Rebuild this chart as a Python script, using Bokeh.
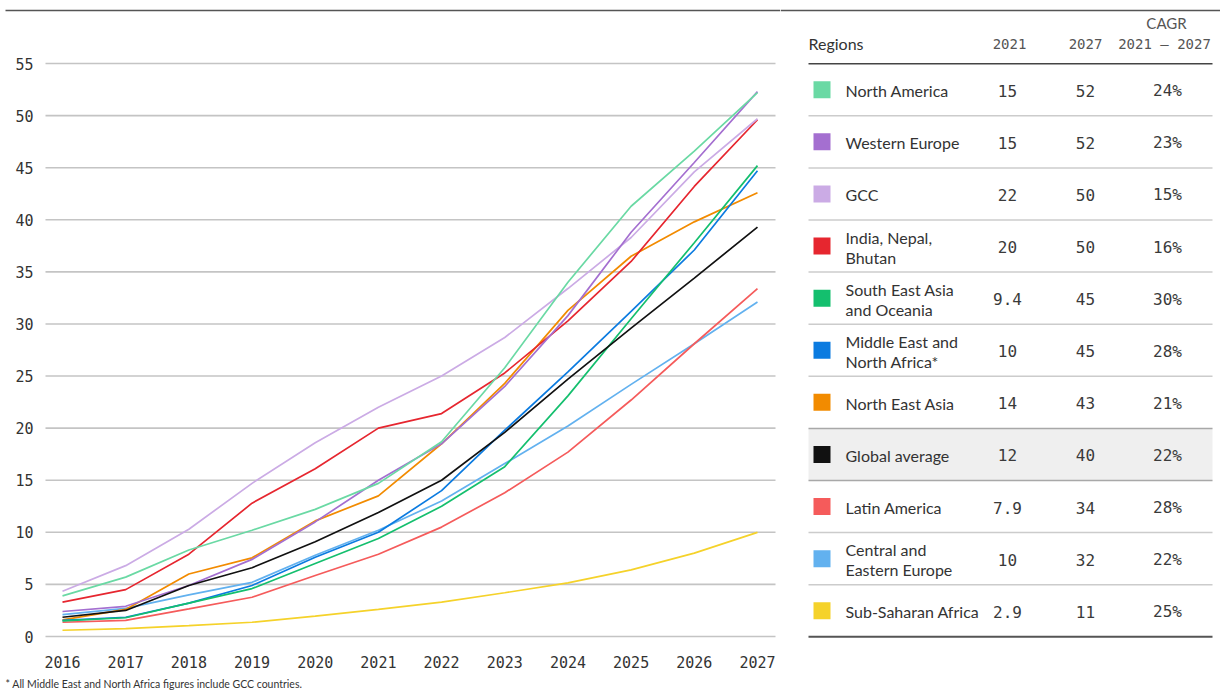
from bokeh.plotting import figure
from bokeh.layouts import row
from bokeh.models import Range1d
from bokeh.core.properties import value
from bokeh.embed import file_html
from bokeh.resources import INLINE

years = list(range(2016, 2028))

north_america = [3.9, 5.7, 8.3, 10.2, 12.2, 14.7, 18.7, 25.8, 34.0, 41.3, 46.6, 52.2]
western_europe = [2.4, 2.9, 4.9, 7.4, 11.0, 15.0, 18.5, 24.0, 30.8, 38.8, 45.5, 52.3]
gcc = [4.35, 6.8, 10.3, 14.7, 18.6, 22.0, 25.0, 28.7, 33.4, 38.3, 44.6, 49.7]
india_nepal_bhutan = [3.3, 4.5, 7.9, 12.8, 16.1, 20.0, 21.4, 25.3, 30.3, 36.0, 43.2, 49.6]
south_east_asia = [1.5, 1.8, 3.2, 4.6, 7.0, 9.4, 12.5, 16.3, 23.1, 30.5, 37.8, 45.2]
middle_east_na = [1.55, 1.85, 3.2, 4.9, 7.6, 10.0, 14.0, 19.8, 25.4, 31.2, 37.1, 44.7]
north_east_asia = [1.6, 2.6, 6.0, 7.55, 11.1, 13.5, 18.5, 24.3, 31.3, 36.5, 39.8, 42.6]
global_average = [1.85, 2.5, 4.9, 6.6, 9.1, 11.9, 15.0, 19.6, 24.7, 29.6, 34.4, 39.3]
latin_america = [1.37, 1.55, 2.65, 3.77, 5.85, 7.9, 10.5, 13.8, 17.7, 22.7, 28.1, 33.4]
central_eastern_europe = [2.1, 2.7, 4.0, 5.2, 7.8, 10.2, 13.0, 16.6, 20.2, 24.2, 28.1, 32.1]
sub_saharan_africa = [0.6, 0.75, 1.05, 1.37, 1.95, 2.6, 3.3, 4.2, 5.15, 6.4, 8.0, 10.0]

regions = ["North America", "Western Europe", "GCC", "India, Nepal,\nBhutan",
           "South East Asia\nand Oceania", "Middle East and\nNorth Africa*",
           "North East Asia", "Global average", "Latin America",
           "Central and\nEastern Europe", "Sub-Saharan Africa"]
values_2021 = ["15", "15", "22", "20", "9.4", "10", "14", "12", "7.9", "10", "2.9"]
values_2027 = ["52", "52", "50", "50", "45", "45", "43", "40", "34", "32", "11"]
cagr = ["24%", "23%", "15%", "16%", "30%", "28%", "21%", "22%", "28%", "22%", "25%"]
colors = ["#6ad9a4", "#a46fd0", "#cbabe5", "#e6262f", "#14bf6e", "#0b7be0",
          "#f28b00", "#111111", "#f55b5b", "#62b1ef", "#f5d22a"]
series = [north_america, western_europe, gcc, india_nepal_bhutan, south_east_asia,
          middle_east_na, north_east_asia, global_average, latin_america,
          central_eastern_europe, sub_saharan_africa]
y_ticks = list(range(0, 56, 5))
footnote = "* All Middle East and North Africa figures include GCC countries."

MONO = value("DejaVu Sans Mono")
SANS = value("Lato")
H = 691

# ---------------- chart ----------------
W1 = 780
PX_YEAR = 63.18
PX_UNIT = 10.418
xs = 2016 - 62 / PX_YEAR
ys = -(H - 636) / PX_UNIT


def fx(px):
    return xs + px / PX_YEAR


def fy(py):
    return ys + (H - py) / PX_UNIT


p = figure(width=W1, height=H, x_range=Range1d(xs, xs + W1 / PX_YEAR),
           y_range=Range1d(ys, ys + H / PX_UNIT), output_backend="svg",
           toolbar_location=None, x_axis_type=None, y_axis_type=None,
           min_border=0, min_border_left=0, min_border_right=0,
           min_border_top=0, min_border_bottom=0)
p.outline_line_color = None
p.grid.visible = False
p.background_fill_color = "white"
p.border_fill_color = "white"

n = len(y_ticks)
p.segment(x0=[fx(45)] * n, y0=y_ticks, x1=[fx(775)] * n, y1=y_ticks,
          line_color="#c4c4c4", line_width=1.6)
p.text(x=[fx(33)] * n, y=y_ticks, text=[str(t) for t in y_ticks],
       text_align="right", text_baseline="middle", text_font=MONO,
       text_font_size="15px", text_color="#333333")
p.text(x=years, y=[fy(661)] * len(years), text=[str(y) for y in years],
       text_align="center", text_baseline="middle", text_font=MONO,
       text_font_size="15px", text_color="#333333")

order = [10, 9, 8, 6, 5, 4, 3, 2, 1, 0, 7]
for i in order:
    p.line(years, series[i], line_color=colors[i], line_width=1.7)

p.segment(x0=[fx(5)], y0=[fy(10)], x1=[fx(780)], y1=[fy(10)],
          line_color="#555555", line_width=1.5)
p.text(x=[fx(5)], y=[fy(683)], text=[footnote], text_align="left",
       text_baseline="middle", text_font=SANS, text_font_size="10.5px",
       text_color="#333333")

# ---------------- table ----------------
W2 = 440
t = figure(width=W2, height=H, x_range=Range1d(780, 780 + W2),
           y_range=Range1d(H, 0), output_backend="svg", toolbar_location=None,
           x_axis_type=None, y_axis_type=None, min_border=0,
           min_border_left=0, min_border_right=0, min_border_top=0,
           min_border_bottom=0)
t.outline_line_color = None
t.grid.visible = False

TOP = 63.2
RH = 52.1
L, R = 808, 1212
nrows = len(regions)
centers = [TOP + RH * (i + 0.5) for i in range(nrows)]
gi = regions.index("Global average")

t.quad(left=[L], right=[R], top=[TOP + RH * gi], bottom=[TOP + RH * (gi + 1)],
       fill_color="#efefef", line_color=None)
for i in range(1, nrows):
    yy = TOP + RH * i
    col = "#a8a8a8" if i in (gi, gi + 1) else "#cccccc"
    t.segment(x0=[L], y0=[yy], x1=[R], y1=[yy], line_color=col, line_width=1.5)
t.segment(x0=[L], y0=[TOP], x1=[R], y1=[TOP], line_color="#444444", line_width=1.5)
t.segment(x0=[L], y0=[TOP + RH * nrows], x1=[R], y1=[TOP + RH * nrows],
          line_color="#555555", line_width=2)
t.segment(x0=[780], y0=[10], x1=[1220], y1=[10], line_color="#555555", line_width=1.5)

t.rect(x=[821.5] * nrows, y=centers, width=17, height=17, fill_color=colors,
       line_color=None)

lx, ly, lt = [], [], []
for name, c in zip(regions, centers):
    parts = name.split("\n")
    if len(parts) == 1:
        lx.append(845); ly.append(c + 1); lt.append(parts[0])
    else:
        lx += [845, 845]; ly += [c - 9, c + 11]; lt += parts
t.text(x=lx, y=ly, text=lt, text_align="left", text_baseline="middle",
       text_font=SANS, text_font_size="16px", text_color="#333333")

for colx, vals in ((1007, values_2021), (1085, values_2027), (1167, cagr)):
    t.text(x=[colx] * nrows, y=[c + 1 for c in centers], text=vals,
           text_align="center", text_baseline="middle", text_font=MONO,
           text_font_size="16px", text_color="#3a3a3a")

t.text(x=[808], y=[43], text=["Regions"], text_align="left", text_baseline="middle",
       text_font=SANS, text_font_size="16px", text_color="#333333")
t.text(x=[1009, 1085], y=[43, 43], text=["2021", "2027"], text_align="center",
       text_baseline="middle", text_font=MONO, text_font_size="14px",
       text_color="#555555")
t.text(x=[1166], y=[22], text=["CAGR"], text_align="center", text_baseline="middle",
       text_font=SANS, text_font_size="15px", text_color="#555555")
t.text(x=[1164], y=[43], text=["2021 \u2013 2027"], text_align="center",
       text_baseline="middle", text_font=MONO, text_font_size="14px",
       text_color="#555555")

layout = row(p, t, spacing=0)
open("out.html", "w").write(file_html(layout, INLINE))
